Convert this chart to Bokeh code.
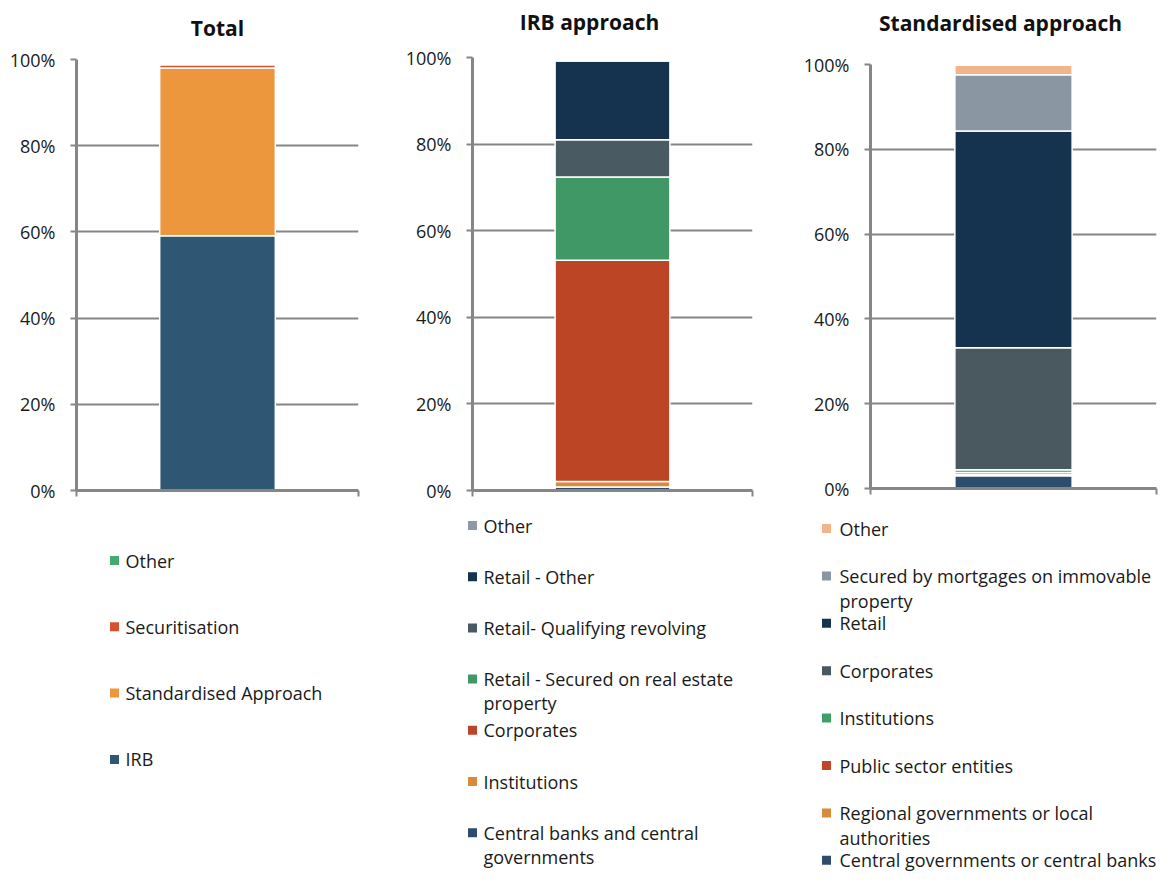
from bokeh.plotting import figure
from bokeh.models import ColumnDataSource, Range1d, FixedTicker, NumeralTickFormatter
from bokeh.layouts import row, column
from bokeh.embed import file_html
from bokeh.resources import INLINE
from bokeh.core.properties import value

# ---------------- data (percent shares, bottom -> top of each stack) ----------------
total_title = "Total"
total_cats = ["IRB", "Standardised Approach", "Securitisation", "Other"]
total_vals = [59.1, 38.9, 0.8, 0.1]
total_colors = ["#2F5672", "#EC963E", "#D6512D", "#45AA70"]

irb_title = "IRB approach"
irb_cats = ["Central banks and central\ngovernments", "Institutions", "Corporates",
            "Retail - Secured on real estate\nproperty", "Retail- Qualifying revolving",
            "Retail - Other", "Other"]
irb_vals = [0.8, 1.3, 51.1, 19.2, 8.6, 18.2, 0.1]
irb_colors = ["#2C4E6C", "#D98A3A", "#BC4526", "#3F9866", "#4A5A62", "#15324F", "#8E99A4"]

sa_title = "Standardised approach"
sa_cats = ["Central governments or central banks", "Regional governments or local\nauthorities",
           "Public sector entities", "Institutions", "Corporates", "Retail",
           "Secured by mortgages on immovable\nproperty", "Other"]
sa_vals = [3.0, 0.3, 0.5, 0.6, 28.8, 51.1, 13.3, 2.2]
sa_colors = ["#2C4E6C", "#D98A3A", "#C2452A", "#3F9E69", "#4A5960", "#15324F", "#8A96A1", "#F2B48B"]

FONT = "Open Sans"
GRID = "#868686"
TXT = "#1a1a1a"
TITLE_H = 40
CHART_H = 468
LEGEND_H = 364


def blank(width, height):
    p = figure(width=width, height=height, output_backend="svg", toolbar_location=None,
               x_range=Range1d(0, width), y_range=Range1d(height, 0),
               min_border=0, min_border_left=0, min_border_right=0,
               min_border_top=0, min_border_bottom=0)
    try:
        p.frame_align = False
    except Exception:
        pass
    p.axis.visible = False
    p.grid.visible = False
    p.outline_line_color = None
    return p


def title_fig(text, width, cx, cy):
    p = blank(width, TITLE_H)
    p.text(x=[cx], y=[cy], text=[text], text_align="center", text_baseline="middle",
           text_font=value(FONT), text_font_style="bold", text_font_size="21px",
           text_color="#111111")
    return p


def chart(cats, vals, colors, width, border_left, border_right, border_top, border_bottom):
    keys = ["s%d" % i for i in range(len(cats))]
    data = {"x": [0.5]}
    for k, v in zip(keys, vals):
        data[k] = [v / 100.0]
    src = ColumnDataSource(data)
    p = figure(width=width, height=CHART_H, output_backend="svg", toolbar_location=None,
               x_range=Range1d(0, 1), y_range=Range1d(0, 1),
               min_border_left=border_left, min_border_right=border_right,
               min_border_top=border_top, min_border_bottom=border_bottom)
    try:
        p.frame_align = False
    except Exception:
        pass
    p.vbar_stack(keys, x="x", width=0.41, color=colors, line_color="white",
                 line_width=1.5, source=src)
    p.outline_line_color = None
    p.xgrid.visible = False
    p.ygrid.grid_line_color = GRID
    p.ygrid.grid_line_width = 2
    p.ygrid.ticker = FixedTicker(ticks=[0, 0.2, 0.4, 0.6, 0.8, 1.0])
    ya = p.yaxis[0]
    ya.ticker = FixedTicker(ticks=[0, 0.2, 0.4, 0.6, 0.8, 1.0])
    ya.formatter = NumeralTickFormatter(format="0%")
    ya.axis_line_color = GRID
    ya.axis_line_width = 3
    ya.major_tick_line_color = GRID
    ya.major_tick_line_width = 2
    ya.major_tick_in = 0
    ya.major_tick_out = 6
    ya.minor_tick_line_color = None
    ya.major_label_standoff = 15
    ya.major_label_text_font = FONT
    ya.major_label_text_font_size = "18px"
    ya.major_label_text_color = TXT
    xa = p.xaxis[0]
    xa.ticker = FixedTicker(ticks=[0, 1])
    xa.major_label_overrides = {0: "", 1: ""}
    xa.axis_line_color = GRID
    xa.axis_line_width = 3
    xa.major_tick_line_color = GRID
    xa.major_tick_line_width = 2
    xa.major_tick_in = 0
    xa.major_tick_out = 6
    xa.minor_tick_line_color = None
    xa.major_label_standoff = 0
    return p


def legend(cats, colors, width, sq_x, txt_x, y0, step, line_gap, font_size="18px"):
    p = blank(width, LEGEND_H)
    order = list(range(len(cats)))[::-1]
    sx, sy, sc = [], [], []
    tx, ty, tt = [], [], []
    for rank, i in enumerate(order):
        yc = y0 + rank * step
        sx.append(sq_x)
        sy.append(yc)
        sc.append(colors[i])
        for j, line in enumerate(cats[i].split("\n")):
            tx.append(txt_x)
            ty.append(yc + j * line_gap)
            tt.append(line)
    p.rect(x=sx, y=sy, width=9, height=9, fill_color=sc, line_color=None)
    p.text(x=tx, y=ty, text=tt, text_align="left", text_baseline="middle",
           text_font=value(FONT), text_font_size=font_size, text_color=TXT)
    return p


W1, W2, W3 = 396, 398, 364

t1 = title_fig(total_title, W1, 217, 27)
t2 = title_fig(irb_title, W2, 193, 21)
t3 = title_fig(sa_title, W3, 206, 22)

c1 = chart(total_cats, total_vals, total_colors, W1, 76, 38, 59 - TITLE_H, 18)
c2 = chart(irb_cats, irb_vals, irb_colors, W2, 76, 42, 57 - TITLE_H, 18)
c3 = chart(sa_cats, sa_vals, sa_colors, W3, 76, 2, 64 - TITLE_H, 20)

l1 = legend(total_cats, total_colors, W1, 114, 125, 52, 66.3, 26)
l2 = legend(irb_cats, irb_colors, W2, 76, 87, 17, 51.2, 24)
l3 = legend(sa_cats, sa_colors, W3, 32, 45, 20, 47.4, 25)

layout = row(column(t1, c1, l1), column(t2, c2, l2), column(t3, c3, l3))

open("out.html", "w").write(file_html(layout, INLINE))
